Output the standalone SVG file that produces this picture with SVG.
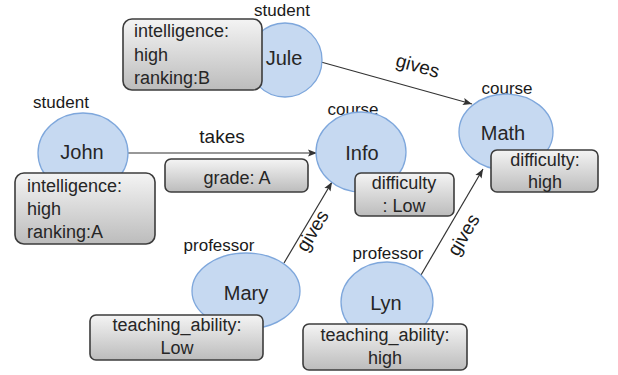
<svg xmlns="http://www.w3.org/2000/svg" width="618" height="375" viewBox="0 0 618 375">
<defs>
<linearGradient id="g" x1="0" y1="0" x2="0" y2="1">
<stop offset="0" stop-color="#f4f4f4"/>
<stop offset="1" stop-color="#bcbcbc"/>
</linearGradient>
<marker id="ah" viewBox="0 0 10 10" refX="10" refY="5" markerWidth="9" markerHeight="9" markerUnits="userSpaceOnUse" orient="auto">
<path d="M0,1 L10,5 L0,9 L2,5 z" fill="#333"/>
</marker>
<style>
.el{fill:#c6d9f1;stroke:#7ea7dc;stroke-width:1.3}
.bx{fill:url(#g);stroke:#3c3c3c;stroke-width:1.6}
.nm{font-family:"Liberation Sans",Arial,sans-serif;font-size:20px;fill:#262626;text-anchor:middle}
.lb{font-family:"Liberation Sans",Arial,sans-serif;font-size:17px;fill:#1a1a1a;text-anchor:middle}
.el2{font-family:"Liberation Sans",Arial,sans-serif;font-size:19px;fill:#1a1a1a;text-anchor:middle}
.at{font-family:"Liberation Sans",Arial,sans-serif;font-size:18px;fill:#262626}
.ac{text-anchor:middle}
.cn{stroke:#333;stroke-width:1.2;fill:none;marker-end:url(#ah)}
</style>
</defs>
<g id="connectors">
<line class="cn" x1="128" y1="153" x2="317" y2="153"/>
<line class="cn" x1="321" y1="62" x2="472" y2="104"/>
<line class="cn" x1="284" y1="263" x2="332" y2="182"/>
<line class="cn" x1="421" y1="275" x2="483" y2="169"/>
<text class="el2" x="222" y="143">takes</text>
<text class="el2" transform="translate(416,72) rotate(15.5)">gives</text>
<text class="el2" transform="translate(318,234) rotate(-59)">gives</text>
<text class="el2" transform="translate(469,238) rotate(-59.7)">gives</text>
<rect class="bx" x="165" y="159" width="143" height="33" rx="6"/>
<text class="at ac" x="237" y="184">grade: A</text>
</g>
<g id="jule">
<text class="lb" x="282" y="16">student</text>
<ellipse class="el" cx="285" cy="60" rx="37" ry="37"/>
<text class="nm" x="284" y="65">Jule</text>
<rect class="bx" x="123" y="19" width="139" height="71" rx="9"/>
<text class="at" x="134" y="37">intelligence:</text>
<text class="at" x="134" y="61">high</text>
<text class="at" x="134" y="84">ranking:B</text>
</g>
<g id="john">
<text class="lb" x="61" y="108">student</text>
<ellipse class="el" cx="83" cy="153" rx="45" ry="40"/>
<text class="nm" x="82" y="159">John</text>
<rect class="bx" x="15" y="173" width="140" height="71" rx="9"/>
<text class="at" x="27" y="192">intelligence:</text>
<text class="at" x="27" y="215">high</text>
<text class="at" x="27" y="238">ranking:A</text>
</g>
<g id="info">
<text class="lb" x="353" y="115">course</text>
<ellipse class="el" cx="361" cy="152" rx="45" ry="40"/>
<text class="nm" x="362" y="160">Info</text>
<rect class="bx" x="355" y="173" width="99" height="43" rx="6"/>
<text class="at ac" x="404" y="189">difficulty</text>
<text class="at ac" x="404" y="212">: Low</text>
</g>
<g id="math">
<text class="lb" x="507" y="94">course</text>
<ellipse class="el" cx="506" cy="132" rx="47" ry="38"/>
<text class="nm" x="503" y="140">Math</text>
<rect class="bx" x="491" y="150" width="107" height="42" rx="6"/>
<text class="at ac" x="545" y="166">difficulty:</text>
<text class="at ac" x="545" y="188">high</text>
</g>
<g id="mary">
<text class="lb" x="219" y="251">professor</text>
<ellipse class="el" cx="246" cy="291" rx="54" ry="38"/>
<text class="nm" x="246" y="300">Mary</text>
<rect class="bx" x="90" y="315" width="173" height="45" rx="6"/>
<text class="at ac" x="177" y="331">teaching_ability:</text>
<text class="at ac" x="177" y="354">Low</text>
</g>
<g id="lyn">
<text class="lb" x="388" y="259">professor</text>
<ellipse class="el" cx="387" cy="302" rx="46" ry="40"/>
<text class="nm" x="386" y="310">Lyn</text>
<rect class="bx" x="303" y="324" width="164" height="46" rx="6"/>
<text class="at ac" x="385" y="341">teaching_ability:</text>
<text class="at ac" x="385" y="364">high</text>
</g>
</svg>
